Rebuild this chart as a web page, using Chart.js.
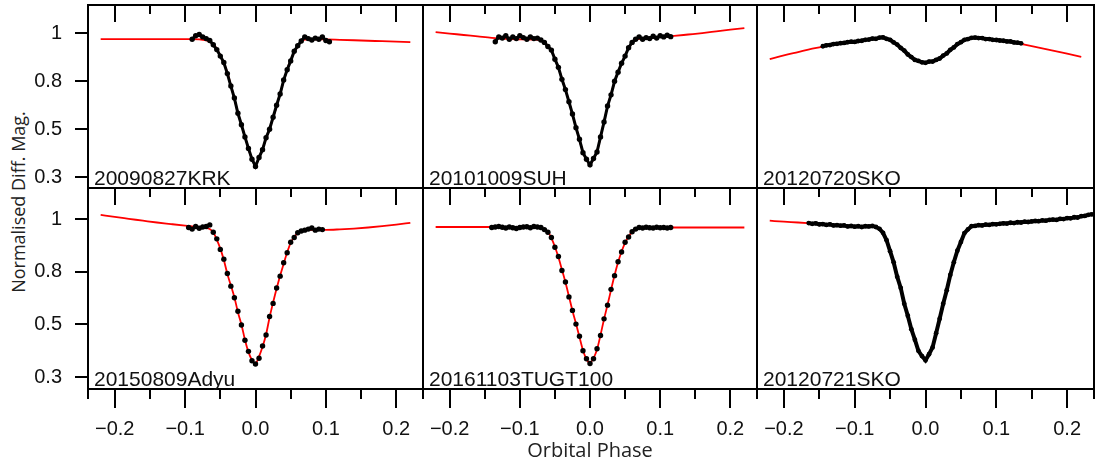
<!DOCTYPE html>
<html>
<head>
<meta charset="utf-8">
<title>Eclipse light curves</title>
<script src="https://cdn.jsdelivr.net/npm/chart.js@4.4.1/dist/chart.umd.min.js"></script>
<style>
  html, body { margin: 0; padding: 0; background: #fff; }
  #wrap { position: relative; width: 1103px; height: 469px; overflow: hidden; background: #fff; }
  #wrap canvas { position: absolute; left: 0; top: 0; }
  #ytitle {
    position: absolute; left: 18px; top: 202px;
    transform: translate(-50%, -50%) rotate(-90deg);
    font-family: "Open Sans", sans-serif; font-size: 18px; color: #222;
    white-space: nowrap; line-height: 1;
  }
</style>
</head>
<body>
<div id="wrap"><div id="ytitle">Normalised Diff. Mag.</div></div>
<script>
// ---- light-curve data -------------------------------------------------------
const panelNames = ['20090827KRK', '20101009SUH', '20120720SKO',
                    '20150809Adyu', '20161103TUGT100', '20120721SKO'];

// phase grid of the fitted model curves
const modelPhase = [-0.22, -0.2, -0.18, -0.16, -0.14, -0.12, -0.1, -0.09, -0.08, -0.07,
  -0.065, -0.06, -0.055, -0.05, -0.045, -0.04, -0.035, -0.03, -0.025, -0.02, -0.015, -0.01, -0.005,
  0, 0.005, 0.01, 0.015, 0.02, 0.025, 0.03, 0.035, 0.04, 0.045, 0.05, 0.055, 0.06, 0.065,
  0.07, 0.08, 0.09, 0.1, 0.12, 0.14, 0.16, 0.18, 0.2, 0.22, 0.238];

const modelKRK = [0.976, 0.976, 0.976, 0.976, 0.976, 0.976, 0.976, 0.976, 0.975, 0.970,
  0.965, 0.955, 0.935, 0.908, 0.875, 0.836, 0.775, 0.690, 0.605, 0.530, 0.470, 0.418, 0.378,
  0.352, 0.380, 0.418, 0.460, 0.505, 0.570, 0.645, 0.725, 0.800, 0.850, 0.888, 0.920, 0.945, 0.965,
  0.974, 0.975, 0.975, 0.975, 0.973, 0.971, 0.969, 0.967, 0.965, 0.963, null];
const modelSUH = [1.005, 0.999, 0.993, 0.987, 0.981, 0.977, 0.975, 0.975, 0.974, 0.970,
  0.963, 0.948, 0.928, 0.895, 0.855, 0.812, 0.745, 0.675, 0.590, 0.515, 0.455, 0.405, 0.372,
  0.356, 0.375, 0.410, 0.465, 0.550, 0.640, 0.720, 0.795, 0.840, 0.872, 0.908, 0.938, 0.960, 0.972,
  0.977, 0.980, 0.982, 0.984, 0.989, 0.995, 1.001, 1.008, 1.015, 1.022, null];
const modelSKO0720 = [0.892, 0.908, 0.922, 0.936, 0.948, 0.958, 0.966, 0.970, 0.975, 0.979,
  0.981, 0.981, 0.978, 0.972, 0.963, 0.952, 0.940, 0.927, 0.913, 0.900, 0.890, 0.884, 0.880,
  0.879, 0.880, 0.883, 0.888, 0.896, 0.906, 0.917, 0.930, 0.942, 0.954, 0.964, 0.972, 0.977, 0.980,
  0.981, 0.979, 0.975, 0.971, 0.965, 0.953, 0.940, 0.928, 0.915, 0.902, null];
const modelAdyu = [1.016, 1.008, 1.001, 0.994, 0.987, 0.981, 0.975, 0.972, 0.970, 0.967,
  0.962, 0.950, 0.922, 0.888, 0.845, 0.788, 0.722, 0.655, 0.570, 0.500, 0.442, 0.395, 0.365,
  0.352, 0.378, 0.415, 0.462, 0.540, 0.625, 0.705, 0.778, 0.830, 0.874, 0.910, 0.932, 0.946, 0.953,
  0.957, 0.959, 0.959, 0.959, 0.961, 0.964, 0.968, 0.973, 0.979, 0.986, null];
const modelTUG = [0.970, 0.970, 0.970, 0.970, 0.970, 0.970, 0.970, 0.970, 0.969, 0.967,
  0.962, 0.952, 0.928, 0.895, 0.855, 0.808, 0.740, 0.660, 0.578, 0.505, 0.452, 0.402, 0.368,
  0.355, 0.372, 0.405, 0.460, 0.530, 0.612, 0.697, 0.780, 0.836, 0.877, 0.910, 0.934, 0.951, 0.961,
  0.966, 0.968, 0.968, 0.968, 0.968, 0.968, 0.968, 0.968, 0.968, 0.968, null];
const modelSKO0721 = [0.994, 0.990, 0.987, 0.983, 0.979, 0.975, 0.973, 0.972, 0.972, 0.970,
  0.965, 0.950, 0.918, 0.880, 0.835, 0.775, 0.705, 0.620, 0.548, 0.485, 0.440, 0.402, 0.378,
  0.366, 0.385, 0.415, 0.465, 0.535, 0.615, 0.697, 0.780, 0.838, 0.878, 0.915, 0.945, 0.963, 0.972,
  0.975, 0.977, 0.979, 0.981, 0.985, 0.989, 0.993, 0.998, 1.003, 1.010, 1.018];

// observed points: first phase of each run, fixed cadence in phase
const dotStart = [-0.090, -0.135, -0.145, -0.095, -0.140, -0.165];
const dotCadence = 0.005;

const fluxKRK = [0.975, 0.990, 0.995, 0.985, 0.978, 0.970, 0.952, 0.932, 0.905, 0.878,
  0.832, 0.770, 0.695, 0.600, 0.528, 0.468, 0.420, 0.375, 0.345, 0.382,
  0.415, 0.465, 0.500, 0.575, 0.650, 0.720, 0.805, 0.848, 0.885, 0.925,
  0.948, 0.968, 0.985, 0.978, 0.972, 0.980, 0.975, 0.985, 0.970, 0.965];
const fluxSUH = [0.965, 0.985, 0.980, 0.990, 0.975, 0.985, 0.978, 0.990, 0.982, 0.975,
  0.985, 0.978, 0.980, 0.972, 0.962, 0.945, 0.930, 0.892, 0.858, 0.808,
  0.748, 0.672, 0.595, 0.510, 0.458, 0.402, 0.375, 0.352, 0.378, 0.405,
  0.468, 0.545, 0.645, 0.715, 0.800, 0.838, 0.875, 0.905, 0.940, 0.962,
  0.975, 0.985, 0.975, 0.982, 0.978, 0.988, 0.980, 0.990, 0.985, 0.992, 0.986];
const fluxSKO0720 = [0.946, 0.950, 0.951, 0.955, 0.956, 0.959, 0.960, 0.963, 0.965, 0.964,
  0.968, 0.969, 0.973, 0.974, 0.978, 0.977, 0.982, 0.983, 0.977, 0.973,
  0.962, 0.953, 0.939, 0.928, 0.912, 0.901, 0.889, 0.885, 0.879, 0.877,
  0.882, 0.882, 0.889, 0.895, 0.907, 0.916, 0.931, 0.941, 0.955, 0.963,
  0.973, 0.976, 0.981, 0.982, 0.980, 0.980, 0.976, 0.976, 0.973, 0.972,
  0.970, 0.969, 0.966, 0.966, 0.962, 0.961, 0.958];
const fluxAdyu = [0.968, 0.962, 0.972, 0.965, 0.970, 0.972, 0.978, 0.950, 0.925, 0.885,
  0.848, 0.790, 0.718, 0.652, 0.575, 0.498, 0.440, 0.398, 0.362, 0.350,
  0.372, 0.418, 0.460, 0.545, 0.620, 0.708, 0.775, 0.834, 0.872, 0.912,
  0.930, 0.948, 0.955, 0.958, 0.962, 0.966, 0.958, 0.962, 0.960];
const fluxTUG = [0.968, 0.970, 0.972, 0.969, 0.966, 0.970, 0.967, 0.964, 0.968, 0.970,
  0.971, 0.967, 0.972, 0.970, 0.968, 0.960, 0.950, 0.930, 0.893, 0.858,
  0.805, 0.742, 0.657, 0.580, 0.502, 0.455, 0.400, 0.370, 0.352, 0.370,
  0.408, 0.458, 0.532, 0.610, 0.700, 0.778, 0.838, 0.875, 0.912, 0.932,
  0.952, 0.962, 0.968, 0.966, 0.969, 0.967, 0.966, 0.969, 0.967, 0.968, 0.966, 0.968];
const fluxSKO0721 = [0.985, 0.982, 0.984, 0.980, 0.981, 0.978, 0.980, 0.976, 0.977, 0.975,
  0.976, 0.972, 0.974, 0.971, 0.973, 0.970, 0.973, 0.972, 0.974, 0.970,
  0.963, 0.948, 0.920, 0.878, 0.836, 0.772, 0.708, 0.618, 0.550, 0.482,
  0.442, 0.400, 0.380, 0.364, 0.387, 0.413, 0.467, 0.533, 0.618, 0.695,
  0.782, 0.836, 0.880, 0.913, 0.947, 0.961, 0.973, 0.974, 0.977, 0.976,
  0.979, 0.978, 0.981, 0.980, 0.982, 0.984, 0.983, 0.986, 0.985, 0.988,
  0.987, 0.990, 0.989, 0.991, 0.993, 0.992, 0.995, 0.994, 0.997, 0.998,
  0.997, 1.001, 1.000, 1.004, 1.003, 1.007, 1.006, 1.011, 1.012, 1.016, 1.018];

const panelModels = [modelKRK, modelSUH, modelSKO0720, modelAdyu, modelTUG, modelSKO0721];
const panelFlux = [fluxKRK, fluxSUH, fluxSKO0720, fluxAdyu, fluxTUG, fluxSKO0721];

// ---- axes ---------------------------------------------------------------------
const xMin = -0.238, xMax = 0.238;
const yMin = 0.255, yMax = 1.118;
const xMajorTicks = [-0.2, -0.1, 0, 0.1, 0.2];
const xMinorTicks = [-0.15, -0.05, 0.05, 0.15];
const xTickLabels = ['\u22120.2', '\u22120.1', '0.0', '0.1', '0.2'];
const yTickValues = [1, 0.8, 0.5, 0.3];
const yTickLabels = ['1', '0.8', '0.5', '0.3'];

// ---- layout -------------------------------------------------------------------
const W = 1103, H = 469;
const colEdges = [88, 423, 757, 1094];
const rowEdges = [5, 188, 389];
const yAxisWidth = 88;
const xAxisHeight = 74;
const FONT = '"Liberation Sans", Arial, sans-serif';
// width of the black trace joining the points of a run (0 = points only)
const traceWidth = [3, 3, 4, 0, 0, 4];

// The y axis puts the labelled levels on evenly spaced rows, with linear
// interpolation in between (and linear extension past the end rows).
const yKnots = yTickValues.slice().sort((a, b) => a - b);
function toRow(v) {
  const k = yKnots, n = k.length;
  let i = 0;
  while (i < n - 2 && v > k[i + 1]) i++;
  return i + (v - k[i]) / (k[i + 1] - k[i]);
}
function fromRow(u) {
  const k = yKnots, n = k.length;
  const i = Math.max(0, Math.min(n - 2, Math.floor(u)));
  return k[i] + (u - i) * (k[i + 1] - k[i]);
}

class TickRowScale extends Chart.LinearScale {
  getPixelForValue(value) {
    if (value === null || value === undefined || isNaN(value)) return NaN;
    const a = toRow(this.min), b = toRow(this.max);
    return this.getPixelForDecimal((toRow(value) - a) / (b - a));
  }
  getValueForPixel(pixel) {
    const a = toRow(this.min), b = toRow(this.max);
    return fromRow(a + this.getDecimalForPixel(pixel) * (b - a));
  }
}
TickRowScale.id = 'tickrow';
Chart.register(TickRowScale);

// frame, inward top ticks, outward bottom ticks and run label of a panel
const panelFrame = {
  id: 'panelFrame',
  afterDatasetsDraw(chart, args, opts) {
    const { ctx, chartArea: a } = chart;
    const x = chart.scales.x;
    ctx.save();
    ctx.strokeStyle = '#000';
    ctx.lineWidth = 2;
    ctx.beginPath();
    const tick = (v, y0, len) => {
      const px = Math.round(x.getPixelForValue(v));
      ctx.moveTo(px, y0);
      ctx.lineTo(px, y0 + len);
    };
    xMajorTicks.forEach(v => tick(v, a.top, 17));
    xMinorTicks.forEach(v => tick(v, a.top, 9));
    if (opts.outerTicks) {
      xMajorTicks.forEach(v => tick(v, a.bottom, 19));
      xMinorTicks.forEach(v => tick(v, a.bottom, 10));
      ctx.moveTo(a.left, a.bottom); ctx.lineTo(a.left, a.bottom + 10);
      ctx.moveTo(a.right, a.bottom); ctx.lineTo(a.right, a.bottom + 10);
    }
    ctx.stroke();
    ctx.strokeRect(a.left, a.top, a.right - a.left, a.bottom - a.top);
    ctx.fillStyle = '#111';
    ctx.font = '21px ' + FONT;
    ctx.textAlign = 'left';
    ctx.textBaseline = 'alphabetic';
    ctx.fillText(opts.label, a.left + 6, a.bottom - 3);
    ctx.restore();
  }
};

const wrap = document.getElementById('wrap');

panelNames.forEach((name, i) => {
  const col = i % 3, row = Math.floor(i / 3);
  const L = colEdges[col], R = colEdges[col + 1];
  const T = rowEdges[row], B = rowEdges[row + 1];
  const showY = col === 0;
  const showX = row === 1;
  const trace = traceWidth[i];

  const model = [];
  modelPhase.forEach((p, j) => {
    const v = panelModels[i][j];
    if (v !== null) model.push({ x: p, y: v });
  });
  const dots = panelFlux[i].map((f, j) => ({ x: +(dotStart[i] + j * dotCadence).toFixed(4), y: f }));

  const canvas = document.createElement('canvas');
  canvas.width = W;
  canvas.height = H;
  wrap.appendChild(canvas);

  new Chart(canvas, {
    type: 'scatter',
    data: {
      datasets: [
        {
          label: name,
          data: dots,
          showLine: trace > 0,
          borderColor: '#000',
          borderWidth: trace,
          pointRadius: trace > 3 ? 2.4 : 2.7,
          pointBackgroundColor: '#000',
          pointBorderWidth: 0,
          pointHoverRadius: 0
        },
        {
          label: name + ' model',
          data: model,
          showLine: true,
          borderColor: '#ff0000',
          borderWidth: 1.8,
          pointRadius: 0,
          pointHoverRadius: 0,
          cubicInterpolationMode: 'monotone'
        }
      ]
    },
    options: {
      responsive: false,
      animation: false,
      devicePixelRatio: 1,
      events: [],
      layout: {
        padding: {
          left: showY ? L - yAxisWidth : L,
          right: W - R,
          top: T,
          bottom: showX ? H - B - xAxisHeight : H - B
        }
      },
      scales: {
        x: {
          type: 'linear',
          min: xMin,
          max: xMax,
          bounds: 'data',
          display: showX,
          afterBuildTicks: s => { s.ticks = xMajorTicks.map(v => ({ value: v })); },
          afterFit: s => {
            if (showX) s.height = xAxisHeight;
            s.paddingLeft = 0; s.paddingRight = 0;
          },
          grid: { display: false, drawTicks: false },
          border: { display: false },
          ticks: {
            padding: 28,
            autoSkip: false,
            maxRotation: 0,
            color: '#111',
            font: { family: FONT, size: 20 },
            callback: (v, idx) => xTickLabels[idx]
          },
          title: {
            display: showX && col === 1,
            text: 'Orbital Phase',
            color: '#222',
            font: { family: '"Open Sans", sans-serif', size: 20 },
            padding: { top: 0, bottom: 0 }
          }
        },
        y: {
          type: 'tickrow',
          min: yMin,
          max: yMax,
          bounds: 'data',
          display: showY,
          afterBuildTicks: s => { s.ticks = yTickValues.map(v => ({ value: v })); },
          afterFit: s => {
            if (showY) s.width = yAxisWidth;
            s.paddingTop = 0; s.paddingBottom = 0;
          },
          grid: { display: true, drawOnChartArea: false, drawTicks: true, tickLength: 13, color: '#000', lineWidth: 2 },
          border: { display: false },
          ticks: {
            padding: 13,
            autoSkip: false,
            color: '#111',
            font: { family: FONT, size: 20 },
            callback: (v, idx) => yTickLabels[idx]
          }
        }
      },
      plugins: {
        legend: { display: false },
        tooltip: { enabled: false },
        panelFrame: { label: name, outerTicks: showX }
      }
    },
    plugins: [panelFrame]
  });
});
</script>
</body>
</html>
